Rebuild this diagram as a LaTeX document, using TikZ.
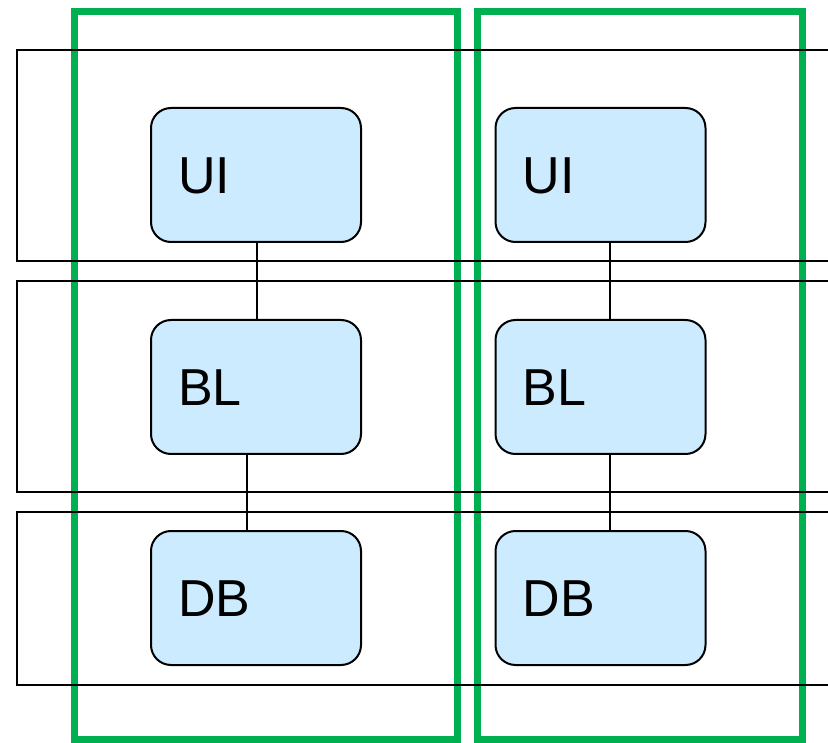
\documentclass[tikz,border=0pt]{standalone}
\usepackage{fontspec}
\setmainfont{Liberation Sans}
\usetikzlibrary{positioning}
\definecolor{tiergreen}{HTML}{00B050}
\definecolor{boxblue}{HTML}{CCEBFE}

\begin{document}
\begin{tikzpicture}[x=1pt,y=-1pt,
    layer/.style={draw=black,line width=2pt},
    slice/.style={draw=tiergreen,line width=7pt},
    part/.style={draw=black,line width=2pt,fill=boxblue,rounded corners=20pt,
      minimum height=134pt,text width=156pt,inner xsep=27pt,align=left,
      text height=37.5pt,text depth=0pt,
      font=\fontsize{52}{58}\selectfont},
    link/.style={draw=black,line width=2pt}]
    \useasboundingbox (0,0) rectangle (828,743);

    % vertical slices
    \draw[slice] (74,12) rectangle (457,739);
    \draw[slice] (477,12) rectangle (802,739);

    % horizontal layers
    \draw[layer] (840,50) -- (17,50) -- (17,261) -- (840,261);
    \draw[layer] (840,281) -- (17,281) -- (17,492) -- (840,492);
    \draw[layer] (840,512) -- (17,512) -- (17,685) -- (840,685);

    \node[part] (ui1) at (256,175) {UI};
    \node[part] (bl1) at (256,387) {BL};
    \node[part] (db1) at (256,598) {DB};
    \node[part] (ui2) at (600.5,175) {UI};
    \node[part] (bl2) at (600.5,387) {BL};
    \node[part] (db2) at (600.5,598) {DB};

    \draw[link] ([xshift=1pt]ui1.south) -- ([xshift=1pt]bl1.north);
    \draw[link] ([xshift=-9.5pt]bl1.south) -- ([xshift=-9.5pt]db1.north);
    \draw[link] ([xshift=9.5pt]ui2.south) -- ([xshift=9.5pt]bl2.north);
    \draw[link] ([xshift=9.5pt]bl2.south) -- ([xshift=9.5pt]db2.north);
\end{tikzpicture}
\end{document}
